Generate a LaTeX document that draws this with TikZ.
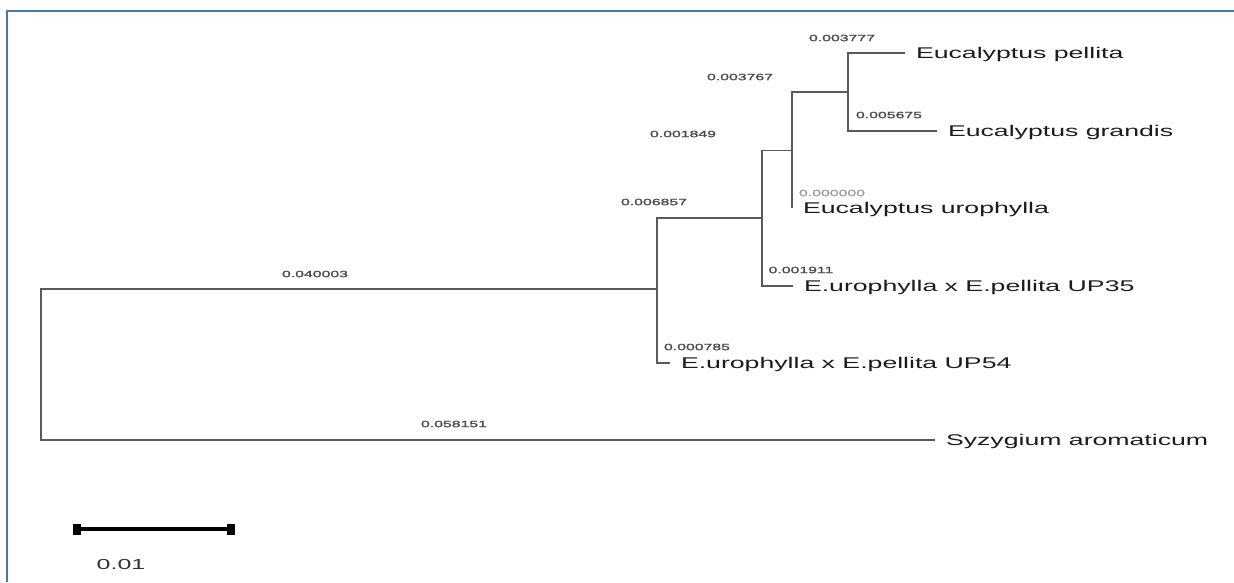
\documentclass[tikz,border=0pt]{standalone}
\usepackage{fontspec}
\setmainfont[FakeStretch=1.72]{Liberation Sans}
\newfontfamily\lenfont[FakeStretch=1.72,FakeBold=1.5]{Liberation Sans}
\usetikzlibrary{arrows.meta}
\definecolor{frameBlue}{HTML}{4F74A6}
\definecolor{branchGray}{HTML}{5A5A5A}
\definecolor{lenGray}{HTML}{4A4A4A}
\definecolor{zeroGray}{HTML}{9C9C9C}
\definecolor{taxonInk}{HTML}{1C1C1C}

\begin{document}
\begin{tikzpicture}[x=1pt, y=-1pt,
    branch/.style={draw=branchGray, line width=1.8pt},
    taxon/.style={anchor=west, inner xsep=11pt, inner ysep=0pt, outer sep=0pt, text height=11.1pt, text depth=0pt, text=taxonInk, font=\fontsize{15.5}{18}\selectfont},
    blen/.style={inner sep=0pt, text=lenGray, font=\lenfont\fontsize{9.2}{11}\selectfont}]
  \useasboundingbox (0,0) rectangle (1234,582);
  \fill[white] (0,0) rectangle (1234,582);
  \draw[frameBlue, line width=2pt] (1234,11) -- (7,11) -- (7,582);

  \coordinate (root) at (41,364.5);
  \coordinate (nA) at (657,289);
  \coordinate (nB) at (762,218);
  \coordinate (nC) at (792,150.5);
  \coordinate (nD) at (848,92);

  \node[taxon] (pel) at (905,53) {Eucalyptus pellita};
  \node[taxon] (gra) at (937,131) {Eucalyptus grandis};
  \node[taxon] (uro) at (792,208) {Eucalyptus urophylla};
  \node[taxon] (up35) at (793,286) {E.urophylla x E.pellita UP35};
  \node[taxon] (up54) at (670,363) {E.urophylla x E.pellita UP54};
  \node[taxon] (syz) at (935,440) {Syzygium aromaticum};

  \draw[branch] (root) |- (nA);
  \draw[branch] (root) |- (syz);
  \draw[branch] (nA) |- (nB);
  \draw[branch] (nA) |- (up54);
  \draw[branch] (nB) |- (nC);
  \draw[branch] (nB) |- (up35);
  \draw[branch] (nC) |- (nD);
  \draw[branch] (nC) |- (uro);
  \draw[branch] (nD) |- (pel);
  \draw[branch] (nD) |- (gra);

  \node[blen] (lenPel) at (842,38) {0.003777};
  \node[blen] (lenD) at (740,77) {0.003767};
  \node[blen] (lenGra) at (889,115) {0.005675};
  \node[blen] (lenC) at (683,134) {0.001849};
  \node[blen, text=zeroGray] (lenUro) at (832,193) {0.000000};
  \node[blen] (lenB) at (654,202) {0.006857};
  \node[blen] (lenUp35) at (801,270) {0.001911};
  \node[blen] (lenA) at (315,274) {0.040003};
  \node[blen] (lenUp54) at (697,347) {0.000785};
  \node[blen] (lenSyz) at (454,424) {0.058151};

  \coordinate (barL) at (73,529);
  \coordinate (barR) at (235,529);
  \draw[line width=4pt, {Square[length=8pt,width=11pt]}-{Square[length=8pt,width=11pt]}] (barL) -- (barR);
  \node[inner sep=0pt, text=black!80, font=\fontsize{14.5}{17}\selectfont] (barText) at (121,564) {0.01};
\end{tikzpicture}
\end{document}
